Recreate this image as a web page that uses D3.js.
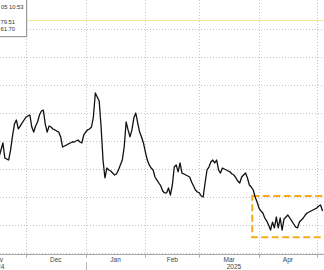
<!DOCTYPE html>
<meta charset="utf-8">
<script src="https://d3js.org/d3.v7.min.js"></script>
<style>
    body { margin: 0; background: #fff; }
    svg { display: block; font-family: "Liberation Sans", Arial, sans-serif; }
</style>

<div id="chart_area"></div>

<script>

    // daily closes, one value per calendar day starting at startDay
    let startDay = "2024-11-16";
    let prices = [
        67.00, 66.86, 67.36, 67.86, 66.79, 66.71, 66.64, 67.36, 68.36, 69.21,
        69.50, 68.86, 69.07, 69.29, 69.50, 69.71, 69.79, 69.86, 69.00, 68.64,
        69.07, 69.36, 69.86, 70.14, 70.21, 69.21, 68.64, 69.07, 69.00, 68.86,
        68.79, 68.71, 68.64, 68.29, 67.57, 67.64, 67.71, 67.79, 67.86, 67.93,
        67.93, 68.00, 68.07, 67.93, 67.86, 68.43, 68.64, 68.79, 68.86, 69.00,
        69.71, 71.43, 71.14, 70.86, 69.00, 66.64, 65.36, 66.07, 65.93, 65.86,
        65.71, 65.57, 65.64, 65.93, 66.29, 66.64, 67.57, 69.36, 68.79, 68.29,
        68.79, 69.64, 70.00, 69.29, 68.64, 68.29, 67.86, 67.21, 66.64, 66.29,
        66.07, 65.93, 65.43, 65.21, 65.00, 64.79, 64.43, 64.29, 64.29, 64.64,
        64.14, 64.86, 66.14, 66.29, 65.79, 66.43, 65.71, 65.64, 65.57, 65.50,
        65.43, 65.07, 64.79, 64.50, 64.36, 64.29, 64.07, 64.00, 65.00, 65.93,
        66.14, 66.50, 66.64, 66.43, 66.64, 65.93, 65.71, 66.07, 66.00, 65.93,
        65.86, 65.79, 65.64, 65.57, 65.36, 65.14, 65.00, 65.43, 65.57, 65.71,
        65.36, 64.86, 64.71, 64.50, 64.00, 63.64, 63.21, 63.00, 62.86, 62.50,
        62.29, 62.00, 61.64, 62.21, 61.79, 62.57, 61.79, 62.50, 61.64, 62.43,
        62.57, 62.71, 62.50, 62.29, 62.07, 61.86, 61.79, 62.21, 62.36, 62.50,
        62.71, 62.86, 62.93, 63.00, 63.07, 63.14, 63.21, 63.36, 63.43, 63.00
    ];

    let gridValues = [62, 64, 66, 68, 70, 72, 74, 76];
    let axisValue = 60;
    let monthStarts = ["2024-11-01", "2024-12-01", "2025-01-01", "2025-02-01",
                       "2025-03-01", "2025-04-01", "2025-05-01"];
    let monthNames = ["Nov", "Dec", "Jan", "Feb", "Mar", "Apr"];
    let yearNames = ["2024", "2025"];
    let yearDates = ["2024-11-16", "2025-03-19"];
    let yearBreak = "2025-01-01";

    // reference level (yellow) and highlighted zone (orange box)
    let refLevel = 76.64;
    let zoneDates = ["2025-03-28 12:00", "2025-05-10 00:00"];
    let zoneValues = [61.12, 64.07];

    // crosshair tooltip left over in the corner
    let tipTime = "05 10:53";
    let tipValues = ["79.51", "61.70"];

    let width = 324;
    let height = 270;

    let parseDay = d3.timeParse("%Y-%m-%d");
    let parseTime = d3.timeParse("%Y-%m-%d %H:%M");

    let first = parseDay(startDay);
    let data = prices.map((v, i) => ({date: d3.timeDay.offset(first, i), value: v}));

    let x = d3.scaleTime()
        .domain([parseDay("2024-12-01"), parseDay("2025-04-01")])
        .range([26, 259]);

    let y = d3.scaleLinear()
        .domain([60, 76])
        .range([253, 29]);

    let svg = d3.select("#chart_area")
        .append("svg")
            .attr("width", width)
            .attr("height", height);

    let months = monthStarts.map(parseDay);
    let axisY = Math.round(y(axisValue)) + 0.5;

    // dotted grid
    svg.append("g")
        .selectAll("line")
        .data(gridValues.concat([axisValue]))
        .enter()
        .append("line")
            .attr("x1", 0)
            .attr("x2", width)
            .attr("y1", d => Math.round(y(d)) + 0.5)
            .attr("y2", d => Math.round(y(d)) + 0.5)
            .attr("stroke", "#c4c4c4")
            .attr("stroke-dasharray", "1,2");

    svg.append("g")
        .selectAll("line")
        .data(months.slice(1))
        .enter()
        .append("line")
            .attr("x1", d => Math.round(x(d)) + 0.5)
            .attr("x2", d => Math.round(x(d)) + 0.5)
            .attr("y1", 0)
            .attr("y2", axisY)
            .attr("stroke", "#c4c4c4")
            .attr("stroke-dasharray", "1,2");

    // yellow reference line
    svg.append("line")
        .attr("x1", 26)
        .attr("x2", width)
        .attr("y1", Math.round(y(refLevel)) + 0.5)
        .attr("y2", Math.round(y(refLevel)) + 0.5)
        .attr("stroke", "#f5e69a")
        .attr("stroke-width", 1);

    // orange dashed zone
    let zx0 = x(parseTime(zoneDates[0]));
    let zx1 = x(parseTime(zoneDates[1]));
    svg.append("rect")
        .attr("x", zx0)
        .attr("y", y(zoneValues[1]))
        .attr("width", zx1 - zx0)
        .attr("height", y(zoneValues[0]) - y(zoneValues[1]))
        .attr("fill", "none")
        .attr("stroke", "#f6ab1d")
        .attr("stroke-width", 2)
        .attr("stroke-dasharray", "7,3.5");

    // price line
    let line = d3.line()
        .x(d => x(d.date))
        .y(d => y(d.value));

    svg.append("path")
        .datum(data)
        .attr("d", line)
        .attr("fill", "none")
        .attr("stroke", "#111")
        .attr("stroke-width", 1.3)
        .attr("stroke-linejoin", "round");

    // time axis
    svg.append("line")
        .attr("x1", 0)
        .attr("x2", width)
        .attr("y1", axisY + 1)
        .attr("y2", axisY + 1)
        .attr("stroke", "#a8a8a8");

    svg.append("g")
        .selectAll("line")
        .data(months.slice(1))
        .enter()
        .append("line")
            .attr("x1", d => Math.round(x(d)) + 0.5)
            .attr("x2", d => Math.round(x(d)) + 0.5)
            .attr("y1", axisY + 1)
            .attr("y2", axisY + 4)
            .attr("stroke", "#a8a8a8");

    svg.append("g")
        .selectAll("text")
        .data(monthNames)
        .enter()
        .append("text")
            .attr("x", (d, i) => (x(months[i]) + x(months[i + 1])) / 2)
            .attr("y", 261.5)
            .attr("text-anchor", "middle")
            .style("font-size", "6.5px")
            .style("fill", "#444")
            .text(d => d);

    svg.append("g")
        .selectAll("text")
        .data(yearNames)
        .enter()
        .append("text")
            .attr("x", (d, i) => x(parseDay(yearDates[i])))
            .attr("y", 268.5)
            .attr("text-anchor", "middle")
            .style("font-size", "6.5px")
            .style("fill", "#444")
            .text(d => d);

    svg.append("line")
        .attr("x1", Math.round(x(parseDay(yearBreak))) + 0.5)
        .attr("x2", Math.round(x(parseDay(yearBreak))) + 0.5)
        .attr("y1", 262)
        .attr("y2", height)
        .attr("stroke", "#b8b8b8");

    // tooltip box
    let tip = svg.append("g");
    tip.append("rect")
        .attr("x", -3).attr("y", -3)
        .attr("width", 30.5).attr("height", 40.5)
        .attr("fill", "#d8d8d8");
    tip.append("rect")
        .attr("x", -3.5).attr("y", -3.5)
        .attr("width", 30).attr("height", 40)
        .attr("fill", "#fff")
        .attr("stroke", "#9a9a9a");
    tip.append("text")
        .attr("x", 23.5).attr("y", 9)
        .attr("text-anchor", "end")
        .style("font-size", "5.8px")
        .style("fill", "#333")
        .text(tipTime);
    tip.selectAll("text.val")
        .data(tipValues)
        .enter()
        .append("text")
            .attr("class", "val")
            .attr("x", 15)
            .attr("y", (d, i) => 23.5 + i * 7.5)
            .attr("text-anchor", "end")
            .style("font-size", "5.8px")
            .style("fill", "#333")
            .text(d => d);

</script>
